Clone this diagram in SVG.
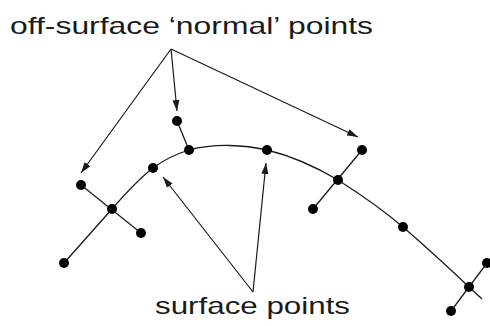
<svg xmlns="http://www.w3.org/2000/svg" width="490" height="326" viewBox="0 0 490 326">
<style>
.ln{fill:none;stroke:#1a1a1a;stroke-width:1.3}
.ar{fill:none;stroke:#1a1a1a;stroke-width:1.2;marker-end:url(#ah)}
.pt{fill:#000}
.lb{font-family:"Liberation Sans",Arial,sans-serif;font-size:24px;fill:#1a1a1a}
</style>
<defs>
<marker id="ah" markerWidth="12" markerHeight="8" refX="11" refY="4" orient="auto" markerUnits="userSpaceOnUse">
<path d="M0,0.5 L11,4 L0,7.5 Z" fill="#1a1a1a"/>
</marker>
</defs>
<rect width="490" height="326" fill="#fff"/>
<g id="connectors">
<path class="ln" d="M64,263 L112,209 C125,194 140,178 153,168 C165,159 176,154 189,150 C215,143 245,145 267,150 C292,156 316,167 338,180 C360,194 383,210 403,227 C425,246 448,267 469,287 L482,299"/>
<line class="ln" x1="81" y1="185" x2="141" y2="233"/>
<line class="ln" x1="362" y1="150" x2="313" y2="209"/>
<line class="ln" x1="487" y1="263" x2="451" y2="311"/>
<line class="ln" x1="177" y1="121" x2="189" y2="150"/>
<line class="ar" x1="171" y1="49" x2="81" y2="173"/>
<line class="ar" x1="171" y1="49" x2="177" y2="111"/>
<line class="ar" x1="171" y1="49" x2="358" y2="137"/>
<line class="ar" x1="253" y1="292" x2="163" y2="177"/>
<line class="ar" x1="253" y1="292" x2="266" y2="163"/>
</g>
<g id="label-offsurface"><text class="lb" x="10" y="34" textLength="363" lengthAdjust="spacingAndGlyphs">off-surface ‘normal’ points</text></g>
<g id="label-surface"><text class="lb" x="155" y="314" textLength="195" lengthAdjust="spacingAndGlyphs">surface points</text></g>
<g id="p1"><circle class="pt" cx="64" cy="263" r="5"/></g>
<g id="p2"><circle class="pt" cx="112" cy="209" r="5"/></g>
<g id="p3"><circle class="pt" cx="81" cy="185" r="5"/></g>
<g id="p4"><circle class="pt" cx="141" cy="233" r="5"/></g>
<g id="p5"><circle class="pt" cx="153" cy="168" r="5"/></g>
<g id="p6"><circle class="pt" cx="189" cy="150" r="5"/></g>
<g id="p7"><circle class="pt" cx="177" cy="121" r="5"/></g>
<g id="p8"><circle class="pt" cx="267" cy="150" r="5"/></g>
<g id="p9"><circle class="pt" cx="338" cy="180" r="5"/></g>
<g id="p10"><circle class="pt" cx="362" cy="150" r="5"/></g>
<g id="p11"><circle class="pt" cx="313" cy="209" r="5"/></g>
<g id="p12"><circle class="pt" cx="403" cy="227" r="5"/></g>
<g id="p13"><circle class="pt" cx="469" cy="287" r="5"/></g>
<g id="p14"><circle class="pt" cx="487" cy="263" r="5"/></g>
<g id="p15"><circle class="pt" cx="451" cy="311" r="5"/></g>
</svg>
